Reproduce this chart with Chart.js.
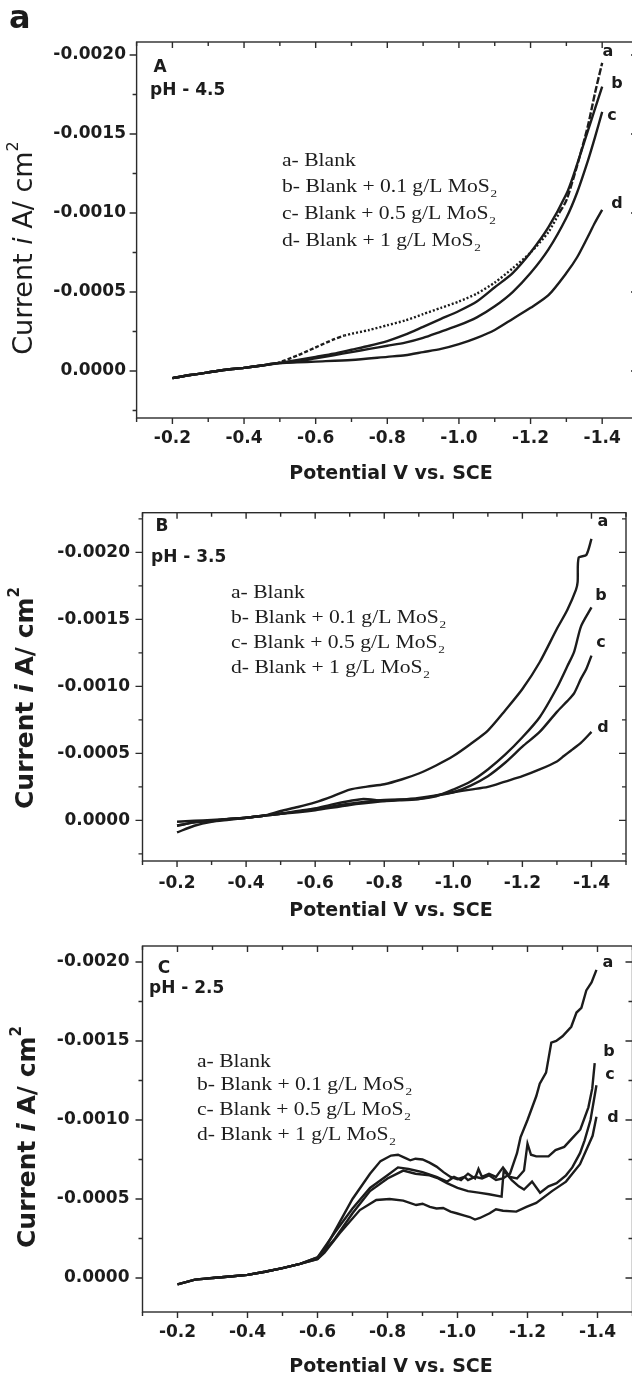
<!DOCTYPE html>
<html>
<head>
<meta charset="utf-8">
<script src="https://cdn.jsdelivr.net/npm/chart.js@4.4.1/dist/chart.umd.min.js"></script>
<style>
  html, body { margin: 0; padding: 0; background: #ffffff; overflow: hidden; }
  #wrap { position: relative; width: 632px; height: 1374px; overflow: hidden; background: #fff; }
  .pane { position: absolute; left: 0; }
  canvas { display: block; }
</style>
</head>
<body>
<div id="wrap">
  <div class="pane" style="top:0px"><canvas id="cA" width="650" height="490"></canvas></div>
  <div class="pane" style="top:490px"><canvas id="cB" width="650" height="432"></canvas></div>
  <div class="pane" style="top:922px"><canvas id="cC" width="650" height="452"></canvas></div>
</div>
<script>
// ---------------- data ----------------
const seriesNames = ['a- Blank', 'b- Blank + 0.1 g/L MoS2', 'c- Blank + 0.5 g/L MoS2', 'd- Blank + 1 g/L MoS2'];
const curveTags = ['a', 'b', 'c', 'd'];
const xMajor = [-0.2, -0.4, -0.6, -0.8, -1.0, -1.2, -1.4];
const xMinor = [-0.1, -0.3, -0.5, -0.7, -0.9, -1.1, -1.3, -1.5];
const yMajor = [0, -0.0005, -0.0010, -0.0015, -0.0020];
const yMinor = [0.00025, -0.00025, -0.00075, -0.00125, -0.00175, -0.00225];

// Panel A  (pH 4.5)
const A_a_x = [-0.20,-0.25,-0.30,-0.35,-0.40,-0.45,-0.49,-0.55,-0.60,-0.65,-0.68,-0.75,-0.80,-0.85,-0.90,-0.95,-1.00,-1.05,-1.10,-1.15,-1.20,-1.25,-1.28,-1.30,-1.33,-1.36,-1.38,-1.40];
const A_a_y = [0.000045,0.000025,0.000008,-0.000008,-0.00002,-0.000035,-0.000049,-0.00010,-0.00015,-0.00020,-0.000225,-0.00026,-0.00029,-0.00032,-0.00036,-0.00040,-0.00044,-0.00049,-0.00056,-0.00065,-0.00075,-0.00088,-0.00100,-0.00108,-0.00130,-0.00155,-0.00176,-0.00195];
const A_b_x = [-0.20,-0.25,-0.30,-0.35,-0.40,-0.45,-0.49,-0.55,-0.60,-0.65,-0.70,-0.75,-0.80,-0.85,-0.90,-0.95,-1.00,-1.05,-1.10,-1.15,-1.20,-1.25,-1.30,-1.32,-1.36,-1.38,-1.40];
const A_b_y = [0.000045,0.000025,0.000008,-0.000008,-0.00002,-0.000035,-0.000049,-0.00007,-0.00009,-0.00011,-0.000135,-0.00016,-0.00019,-0.00023,-0.00028,-0.00033,-0.00038,-0.00044,-0.00053,-0.00062,-0.00075,-0.00091,-0.00112,-0.00124,-0.00152,-0.00166,-0.00180];
const A_c_x = [-0.20,-0.25,-0.30,-0.35,-0.40,-0.45,-0.49,-0.55,-0.60,-0.65,-0.70,-0.75,-0.80,-0.85,-0.90,-0.95,-1.00,-1.05,-1.10,-1.15,-1.20,-1.25,-1.30,-1.33,-1.36,-1.38,-1.40];
const A_c_y = [0.000045,0.000025,0.000008,-0.000008,-0.00002,-0.000035,-0.000049,-0.00006,-0.00008,-0.00010,-0.00012,-0.00014,-0.00016,-0.00018,-0.00021,-0.00025,-0.00029,-0.00034,-0.00041,-0.00050,-0.00062,-0.00077,-0.00097,-0.00113,-0.00133,-0.00148,-0.00164];
const A_d_x = [-0.20,-0.25,-0.30,-0.35,-0.40,-0.45,-0.49,-0.55,-0.60,-0.70,-0.80,-0.85,-0.90,-0.95,-1.00,-1.05,-1.10,-1.15,-1.20,-1.25,-1.30,-1.33,-1.36,-1.38,-1.40];
const A_d_y = [0.000045,0.000025,0.000008,-0.000008,-0.00002,-0.000035,-0.000049,-0.000055,-0.00006,-0.00007,-0.00009,-0.00010,-0.00012,-0.00014,-0.00017,-0.00021,-0.00026,-0.00033,-0.00040,-0.00048,-0.00062,-0.00072,-0.00085,-0.00094,-0.00102];

// Panel B  (pH 3.5)
const B_a_x = [-0.20,-0.25,-0.30,-0.35,-0.40,-0.45,-0.50,-0.55,-0.60,-0.65,-0.70,-0.75,-0.80,-0.85,-0.90,-0.95,-1.00,-1.05,-1.10,-1.15,-1.20,-1.25,-1.30,-1.33,-1.355,-1.360,-1.363,-1.385,-1.40];
const B_a_y = [0.00009,0.00004,0.00001,-0.000005,-0.00002,-0.000035,-0.00007,-0.00010,-0.000135,-0.00018,-0.00023,-0.000252,-0.00027,-0.000305,-0.00035,-0.00041,-0.00048,-0.00057,-0.00067,-0.00082,-0.00098,-0.00118,-0.00143,-0.00157,-0.00172,-0.00178,-0.00196,-0.00198,-0.00210];
const B_b_x = [-0.20,-0.25,-0.30,-0.35,-0.40,-0.45,-0.50,-0.55,-0.60,-0.65,-0.70,-0.74,-0.80,-0.85,-0.90,-0.95,-1.00,-1.05,-1.10,-1.15,-1.20,-1.25,-1.30,-1.33,-1.35,-1.37,-1.40];
const B_b_y = [0.00004,0.000015,0.000002,-0.00001,-0.00002,-0.000035,-0.00005,-0.00007,-0.00009,-0.00012,-0.000145,-0.00016,-0.000145,-0.00015,-0.00016,-0.00018,-0.00023,-0.00029,-0.00038,-0.00049,-0.00062,-0.00077,-0.00099,-0.00115,-0.00126,-0.00145,-0.00159];
const B_c_x = [-0.20,-0.25,-0.30,-0.35,-0.40,-0.45,-0.50,-0.55,-0.60,-0.70,-0.80,-0.90,-0.95,-1.00,-1.05,-1.10,-1.15,-1.20,-1.25,-1.30,-1.33,-1.35,-1.37,-1.385,-1.40];
const B_c_y = [0.00004,0.000015,0.000002,-0.00001,-0.00002,-0.000035,-0.00005,-0.000065,-0.000085,-0.000125,-0.000152,-0.00016,-0.000185,-0.00021,-0.00026,-0.00033,-0.00043,-0.00055,-0.00066,-0.00081,-0.00089,-0.00095,-0.00106,-0.00113,-0.00123];
const B_d_x = [-0.20,-0.25,-0.30,-0.35,-0.40,-0.45,-0.50,-0.55,-0.60,-0.70,-0.80,-0.90,-1.00,-1.05,-1.10,-1.15,-1.20,-1.25,-1.30,-1.32,-1.34,-1.37,-1.40];
const B_d_y = [0.00001,0.000003,-0.000003,-0.00001,-0.00002,-0.000035,-0.00005,-0.00006,-0.000075,-0.000115,-0.000144,-0.000168,-0.00021,-0.00023,-0.00025,-0.00029,-0.00033,-0.00038,-0.00044,-0.00048,-0.00052,-0.00058,-0.00066];

// Panel C  (pH 2.5)
const C_a_x = [-0.20,-0.25,-0.30,-0.35,-0.40,-0.45,-0.50,-0.55,-0.60,-0.62,-0.65,-0.70,-0.75,-0.78,-0.81,-0.83,-0.85,-0.865,-0.88,-0.90,-0.92,-0.94,-0.96,-0.98,-1.00,-1.02,-1.03,-1.05,-1.07,-1.09,-1.11,-1.13,-1.15,-1.17,-1.18,-1.20,-1.225,-1.235,-1.253,-1.268,-1.282,-1.30,-1.325,-1.34,-1.354,-1.368,-1.383,-1.397];
const C_a_y = [0.00004,0.00001,0,-0.00001,-0.00002,-0.00004,-0.000063,-0.00009,-0.00013,-0.00018,-0.00030,-0.00050,-0.00066,-0.00074,-0.000775,-0.00078,-0.00076,-0.000745,-0.000755,-0.00075,-0.00073,-0.000705,-0.00067,-0.00064,-0.000625,-0.00064,-0.00062,-0.00064,-0.00063,-0.00065,-0.00062,-0.00063,-0.00066,-0.00079,-0.00089,-0.00100,-0.00115,-0.00123,-0.00130,-0.00149,-0.00150,-0.00153,-0.00159,-0.00168,-0.00171,-0.00182,-0.00187,-0.00195];
const C_b_x = [-0.20,-0.25,-0.30,-0.35,-0.40,-0.45,-0.50,-0.55,-0.60,-0.65,-0.70,-0.75,-0.80,-0.83,-0.86,-0.90,-0.94,-0.97,-0.99,-1.01,-1.03,-1.05,-1.06,-1.07,-1.09,-1.11,-1.13,-1.15,-1.17,-1.19,-1.20,-1.21,-1.225,-1.26,-1.28,-1.305,-1.33,-1.351,-1.374,-1.385,-1.392];
const C_b_y = [0.00004,0.00001,0,-0.00001,-0.00002,-0.00004,-0.000063,-0.00009,-0.00013,-0.00029,-0.00044,-0.00057,-0.00065,-0.00070,-0.00069,-0.00067,-0.00064,-0.00061,-0.00064,-0.00062,-0.00066,-0.00063,-0.00069,-0.00064,-0.00066,-0.00064,-0.00070,-0.00064,-0.00063,-0.00068,-0.00085,-0.00078,-0.00077,-0.00077,-0.00081,-0.00083,-0.00089,-0.00094,-0.00108,-0.00120,-0.00136];
const C_c_x = [-0.20,-0.25,-0.30,-0.35,-0.40,-0.45,-0.50,-0.55,-0.60,-0.65,-0.70,-0.75,-0.80,-0.845,-0.88,-0.92,-0.945,-0.97,-1.00,-1.03,-1.06,-1.09,-1.126,-1.132,-1.155,-1.175,-1.19,-1.213,-1.236,-1.26,-1.283,-1.31,-1.328,-1.35,-1.363,-1.38,-1.397];
const C_c_y = [0.00004,0.00001,0,-0.00001,-0.00002,-0.00004,-0.000063,-0.00009,-0.00012,-0.00025,-0.00041,-0.00055,-0.00063,-0.00068,-0.00066,-0.00065,-0.00063,-0.00060,-0.00057,-0.00055,-0.00054,-0.00053,-0.000515,-0.00068,-0.00062,-0.00058,-0.00056,-0.00061,-0.00054,-0.00058,-0.00060,-0.00065,-0.00070,-0.00079,-0.00087,-0.00100,-0.00122];
const C_d_x = [-0.30,-0.35,-0.40,-0.45,-0.50,-0.55,-0.60,-0.62,-0.664,-0.721,-0.768,-0.806,-0.845,-0.882,-0.90,-0.921,-0.94,-0.959,-0.98,-0.997,-1.02,-1.035,-1.05,-1.064,-1.092,-1.11,-1.13,-1.168,-1.197,-1.225,-1.27,-1.31,-1.35,-1.386,-1.397];
const C_d_y = [0,-0.00001,-0.00002,-0.00004,-0.000063,-0.00009,-0.00012,-0.00016,-0.000285,-0.00043,-0.000494,-0.00050,-0.00049,-0.000462,-0.00047,-0.00045,-0.00044,-0.000443,-0.00042,-0.00041,-0.000395,-0.000386,-0.00037,-0.00038,-0.00041,-0.000435,-0.000426,-0.00042,-0.00045,-0.000475,-0.00055,-0.00061,-0.00072,-0.00090,-0.00102];

// ---------------- drawing helpers ----------------
const INK = '#1c1c1c';
const SANS = '"DejaVu Sans", sans-serif';
const SERIF = '"Liberation Serif", "Times New Roman", serif';
const pts = (xs, ys) => xs.map((x, i) => ({ x: x, y: ys[i] }));

function sansText(ctx, s, x, y, size, align) {
  ctx.font = 'bold ' + size + 'px ' + SANS;
  ctx.textAlign = align || 'left';
  ctx.textBaseline = 'middle';
  ctx.fillStyle = INK;
  ctx.fillText(s, x, y);
}

function yTitle(ctx, cx, cy, size, weight) {
  ctx.save();
  ctx.translate(cx, cy);
  ctx.rotate(-Math.PI / 2);
  const f = (st, sz) => st + ' ' + weight + ' ' + sz + 'px ' + SANS;
  const parts = [['Current ', f('normal', size), 0], ['i', f('italic', size), 0],
                 [' A/ cm', f('normal', size), 0], ['2', f('normal', Math.round(size * 0.6)), -size * 0.42]];
  let w = 0;
  parts.forEach(p => { ctx.font = p[1]; w += ctx.measureText(p[0]).width; });
  let xx = -w / 2;
  ctx.textBaseline = 'middle'; ctx.textAlign = 'left'; ctx.fillStyle = INK;
  parts.forEach(p => { ctx.font = p[1]; ctx.fillText(p[0], xx, p[2]); xx += ctx.measureText(p[0]).width; });
  ctx.restore();
}

function legendBlock(ctx, x, rows) {
  const size = 18, sx = 1.2;
  rows.forEach((cy, i) => {
    const name = seriesNames[i];
    const sub = name.endsWith('MoS2');
    const main = sub ? name.slice(0, -1) : name;
    ctx.save();
    ctx.translate(x, cy);
    ctx.scale(sx, 1);
    ctx.fillStyle = INK; ctx.textAlign = 'left'; ctx.textBaseline = 'middle';
    ctx.font = size + 'px ' + SERIF;
    ctx.fillText(main, 0, 0);
    if (sub) {
      const w = ctx.measureText(main).width;
      ctx.font = Math.round(size * 0.62) + 'px ' + SERIF;
      ctx.fillText('2', w + 0.5, size * 0.38);
    }
    ctx.restore();
  });
}

function framePlugin(P) {
  return {
    id: 'frame' + P.id,
    afterDraw(chart) {
      const ctx = chart.ctx, a = chart.chartArea, xs = chart.scales.x, ys = chart.scales.y;
      ctx.save();
      ctx.strokeStyle = '#2b2b2b';
      ctx.lineWidth = 1.4;
      ctx.strokeRect(a.left, a.top, a.right - a.left, a.bottom - a.top);
      ctx.beginPath();
      const inX = p => p >= a.left - 0.5 && p <= a.right + 0.5;
      const inY = p => p >= a.top - 0.5 && p <= a.bottom + 0.5;
      xMajor.forEach(v => { const p = xs.getPixelForValue(v); if (!inX(p)) return;
        ctx.moveTo(p, a.bottom); ctx.lineTo(p, a.bottom + 6); ctx.moveTo(p, a.top); ctx.lineTo(p, a.top + 6); });
      xMinor.forEach(v => { const p = xs.getPixelForValue(v); if (!inX(p)) return;
        ctx.moveTo(p, a.bottom); ctx.lineTo(p, a.bottom + 4); ctx.moveTo(p, a.top); ctx.lineTo(p, a.top + 4); });
      yMajor.forEach(v => { const p = ys.getPixelForValue(v); if (!inY(p)) return;
        ctx.moveTo(a.left - 7, p); ctx.lineTo(a.left, p); ctx.moveTo(a.right, p); ctx.lineTo(a.right - 7, p); });
      yMinor.forEach(v => { const p = ys.getPixelForValue(v); if (!inY(p)) return;
        ctx.moveTo(a.left - 4, p); ctx.lineTo(a.left, p); ctx.moveTo(a.right, p); ctx.lineTo(a.right - 4, p); });
      ctx.stroke();

      const T = P.canvasTop;
      if (P.header) sansText(ctx, P.header, 9, 20 - T, 32, 'left');
      sansText(ctx, P.panel, P.panelPos[0], P.panelPos[1] - T, 17, 'center');
      sansText(ctx, P.ph, P.phPos[0], P.phPos[1] - T, 17, 'left');
      legendBlock(ctx, P.legendX, P.legendRows.map(r => r - T));
      P.tagPos.forEach((p, i) => sansText(ctx, curveTags[i], p[0], p[1] - T, 16, 'center'));
      yTitle(ctx, P.yTitlePos[0], P.yTitlePos[1] - T, P.yTitleSize, P.yTitleWeight);
      sansText(ctx, 'Potential V vs. SCE', P.xTitlePos[0], P.xTitlePos[1] - T, 19, 'center');
      ctx.restore();
    }
  };
}

const tickFont = { family: 'DejaVu Sans', size: 17, weight: 'bold' };

function makePanel(canvasId, P) {
  const datasets = P.series.map((s, i) => {
    const ds = { label: seriesNames[i], data: pts(s[0], s[1]), borderColor: INK, borderWidth: 2.4,
                 pointRadius: 0, fill: false, tension: P.tension };
    if (s[2]) ds.segment = { borderDash: s[2] };
    return ds;
  });
  return new Chart(document.getElementById(canvasId), {
    type: 'line',
    data: { datasets: datasets },
    options: {
      responsive: false, animation: false, events: [],
      layout: { padding: { left: 0, top: P.top, right: P.padRight, bottom: 0 } },
      plugins: { legend: { display: false }, tooltip: { enabled: false }, title: { display: false } },
      scales: {
        x: {
          type: 'linear', reverse: true, min: -1.5, max: -0.1,
          afterBuildTicks: sc => { sc.ticks = xMajor.map(v => ({ value: v })); },
          afterFit: sc => { sc.height = P.xh; },
          grid: { display: false, drawTicks: false }, border: { display: false },
          ticks: { padding: P.xpad, font: tickFont, color: INK, maxRotation: 0, minRotation: 0, autoSkip: false,
                   callback: v => Number(v).toFixed(1) }
        },
        y: {
          type: 'linear', reverse: true, min: P.ymin, max: P.ymax,
          afterBuildTicks: sc => { sc.ticks = yMajor.map(v => ({ value: v })); },
          afterFit: sc => { sc.width = P.left; },
          grid: { display: false, drawTicks: false }, border: { display: false },
          ticks: { padding: P.ypad, font: tickFont, color: INK,
                   callback: v => (Math.abs(v) < 1e-12 ? '0.0000' : Number(v).toFixed(4)) }
        }
      }
    },
    plugins: [framePlugin(P)]
  });
}

// dash pattern for curve a of panel A (solid start, dashed, dotted, dashed top)
const dashA = c => {
  const x = c.p0.parsed.x;
  if (x > -0.485) return undefined;
  if (x > -0.68) return [4, 2];
  if (x > -1.27) return [2, 2];
  return [7, 2];
};

makePanel('cA', {
  id: 'A', canvasTop: 0, top: 42, padRight: 12, left: 136.6, xh: 72, xpad: 10.8, ypad: 10.6,
  ymin: -0.002082, ymax: 0.000297, tension: 0.25,
  series: [[A_a_x, A_a_y, dashA], [A_b_x, A_b_y], [A_c_x, A_c_y], [A_d_x, A_d_y]],
  header: 'a', panel: 'A', panelPos: [160, 67.5], ph: 'pH - 4.5', phPos: [150, 90.5],
  legendX: 282, legendRows: [161, 187, 214, 241],
  tagPos: [[608, 52], [617, 84], [612, 116], [617, 204]],
  yTitlePos: [25, 248], yTitleSize: 27, yTitleWeight: 'normal', xTitlePos: [391, 474]
});

makePanel('cB', {
  id: 'B', canvasTop: 490, top: 11, padRight: 24, left: 142.5, xh: 61, xpad: 12.8, ypad: 12.5,
  ymin: -0.002296, ymax: 0.000303, tension: 0.25,
  series: [[B_a_x, B_a_y], [B_b_x, B_b_y], [B_c_x, B_c_y], [B_d_x, B_d_y]],
  panel: 'B', panelPos: [162, 527], ph: 'pH - 3.5', phPos: [151, 557.5],
  legendX: 231, legendRows: [593, 618, 643, 668],
  tagPos: [[603, 522], [601, 596], [601, 643], [603, 728]],
  yTitlePos: [26, 698], yTitleSize: 25, yTitleWeight: 'bold', xTitlePos: [391, 911]
});

makePanel('cC', {
  id: 'C', canvasTop: 922, top: 24, padRight: 17.5, left: 142.5, xh: 62, xpad: 10.8, ypad: 13,
  ymin: -0.002101, ymax: 0.000215, tension: 0,
  series: [[C_a_x, C_a_y], [C_b_x, C_b_y], [C_c_x, C_c_y], [C_d_x, C_d_y]],
  panel: 'C', panelPos: [164, 969], ph: 'pH - 2.5', phPos: [149, 989],
  legendX: 197, legendRows: [1062, 1085, 1110, 1135],
  tagPos: [[608, 963], [609, 1052], [610, 1075], [613, 1118]],
  yTitlePos: [28, 1137], yTitleSize: 25, yTitleWeight: 'bold', xTitlePos: [391, 1367]
});
</script>
</body>
</html>
